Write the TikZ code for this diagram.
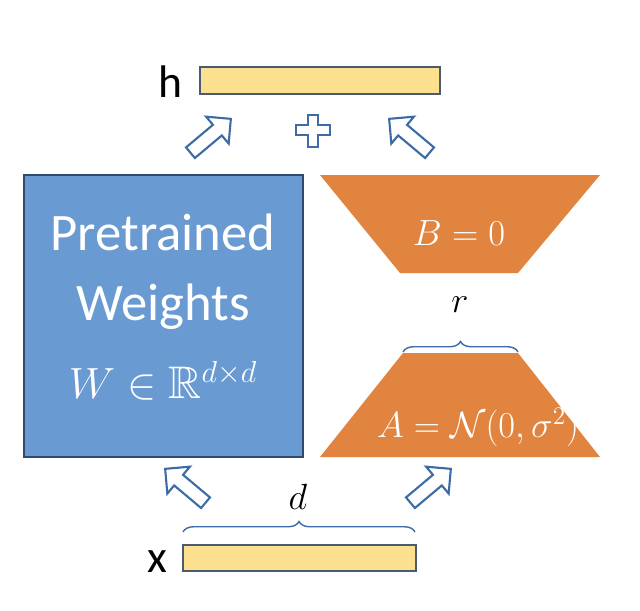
\documentclass[tikz,border=0pt]{standalone}
\usepackage{fontspec}
\setmainfont{Carlito}
\usepackage{amssymb}
\usetikzlibrary{shapes.arrows,decorations.pathreplacing}
\definecolor{bar}{HTML}{FBE08F}
\definecolor{barline}{HTML}{4A5A70}
\definecolor{wblue}{HTML}{6A9AD2}
\definecolor{wline}{HTML}{2F4A6E}
\definecolor{orng}{HTML}{E0843F}
\definecolor{arrline}{HTML}{3C6BA5}
\tikzset{
 barbox/.style={draw=barline,fill=bar,line width=0.8pt},
 harrow/.style={single arrow,draw=arrline,fill=white,line width=1.2pt,minimum height=30pt,minimum width=20pt,single arrow head extend=4pt,inner sep=2pt},
 lbl/.style={font=\fontsize{26}{28}\selectfont},
 brace/.style={decorate,decoration={brace,amplitude=6pt},draw=arrline,line width=0.8pt}
}
\begin{document}
\begin{tikzpicture}[x=0.02cm,y=-0.02cm]
\useasboundingbox (0,0) rectangle (640,610);
\draw[barbox] (200,67) rectangle (440,94);
\node[lbl] (h) at (170,82) {h};
\draw[barbox] (183,545) rectangle (416,571);
\node[lbl] (x) at (157,562) {x};
\draw[fill=wblue,draw=wline,line width=1pt] (24,175) rectangle (303,457);
\node[text=white,font=\fontsize{30}{34}\selectfont,align=center] (pt) at (163,272) {Pretrained\\[6pt]Weights};
\node[text=white,font=\fontsize{26}{30}\selectfont] (w) at (163,381) {$W\in\mathbb{R}^{d\times d}$};
\fill[orng] (320,175) -- (600,175) -- (518,273) -- (400,273) -- cycle;
\node[text=white,font=\fontsize{22}{26}\selectfont] (B) at (459,233) {$B=0$};
\fill[orng] (403,353) -- (518,353) -- (600,457) -- (320,457) -- cycle;
\node[text=white,font=\fontsize{22}{26}\selectfont] (A) at (478,427) {$A=\mathcal{N}(0,\sigma^2)$};
\draw[brace] (403,352) -- (518,352);
\node[font=\fontsize{22}{26}\selectfont] (r) at (460,305) {$r$};
\draw[brace] (183,532) -- (415,532);
\node[font=\fontsize{22}{26}\selectfont] (d) at (298,497) {$d$};
\node[harrow,rotate=40] (a1) at (208,138) {};
\node[harrow,rotate=140] (a2) at (412,138) {};
\node[harrow,rotate=140] (a3) at (188,488) {};
\node[harrow,rotate=40] (a4) at (428,488) {};
\draw[draw=arrline,fill=white,line width=1.2pt] (308,115)--(318,115)--(318,125)--(330,125)--(330,135)--(318,135)--(318,147)--(308,147)--(308,135)--(296,135)--(296,125)--(308,125)--cycle;
\end{tikzpicture}
\end{document}
